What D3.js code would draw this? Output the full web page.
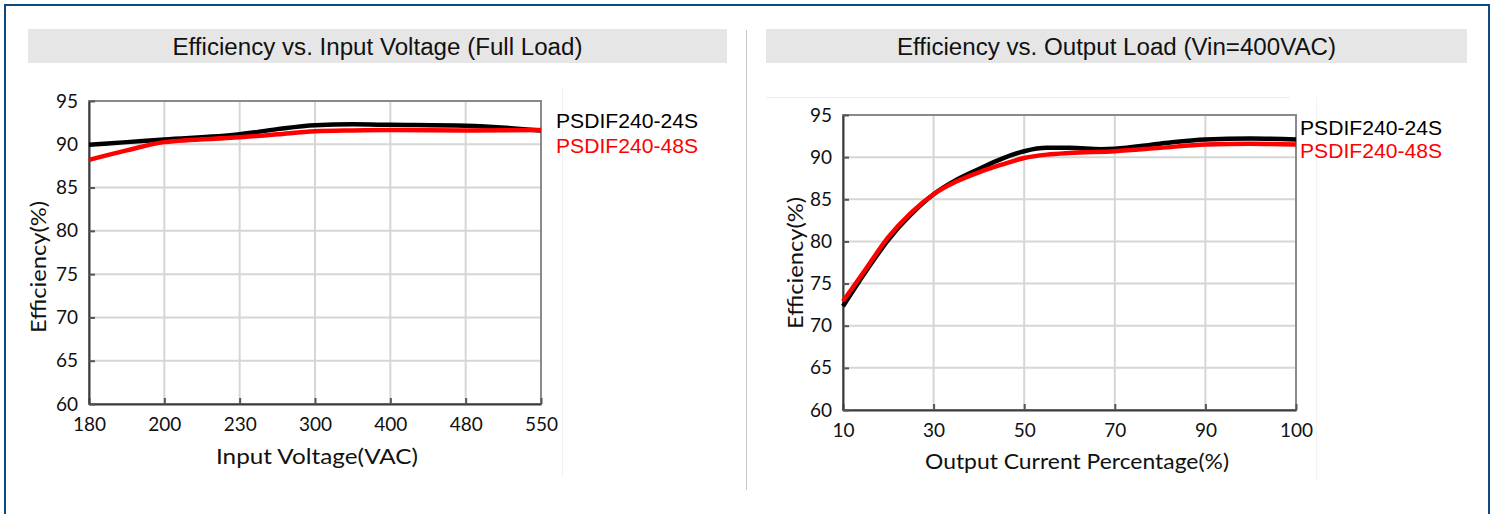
<!DOCTYPE html>
<html>
<head>
<meta charset="utf-8">
<script src="https://cdn.jsdelivr.net/npm/d3@7"></script>
<style>
  html, body { margin: 0; padding: 0; background: #fff; }
  svg { display: block; }
</style>
</head>
<body>
<svg id="chart" width="1497" height="514"></svg>
<script>
// ---------- data ----------
const voltageTicks = [180, 200, 230, 300, 400, 480, 550];
const loadTicks = [10, 30, 50, 70, 90, 100];
const effTicks = [60, 65, 70, 75, 80, 85, 90, 95];
const seriesNames = ["PSDIF240-24S", "PSDIF240-48S"];
const seriesColors = ["#000000", "#ff0000"];

// Efficiency vs input voltage (full load)
const voltX = [180, 190, 200, 230, 265, 300, 350, 400, 480, 550];
const volt24S = [89.95, 90.25, 90.55, 91.15, 91.75, 92.2, 92.3, 92.25, 92.15, 91.6];
const volt48S = [88.2, 89.3, 90.25, 90.8, 91.15, 91.5, 91.6, 91.65, 91.6, 91.65];

// Efficiency vs output load (Vin=400VAC)
const load24X = [10, 15, 20, 25, 30, 35, 40, 45, 50, 55, 60, 67, 70, 80, 90, 95, 100];
const load24S = [72.3, 76.4, 80.2, 83.2, 85.6, 87.3, 88.6, 89.8, 90.7, 91.1, 91.1, 90.95, 91.0, 91.6, 92.1, 92.2, 92.1];
const load48X = [10, 15, 20, 25, 30, 35, 40, 45, 50, 55, 60, 70, 80, 90, 95, 100];
const load48S = [72.9, 76.7, 80.5, 83.4, 85.6, 87.1, 88.2, 89.1, 89.9, 90.3, 90.5, 90.7, 91.1, 91.5, 91.6, 91.5];

const titles = ["Efficiency vs. Input Voltage (Full Load)", "Efficiency vs. Output Load (Vin=400VAC)"];
const xTitles = ["Input Voltage(VAC)", "Output Current Percentage(%)"];
const yTitle = "Efficiency(%)";

// ---------- drawing ----------
const svg = d3.select("#chart");
const titleFont = "'Liberation Sans', Arial, sans-serif";
const axisFont = "Lato, 'DejaVu Sans', sans-serif";

// outer frame
svg.append("rect").attr("x", 5).attr("y", 5).attr("width", 1484).attr("height", 520)
  .attr("fill", "none").attr("stroke", "#0d4a80").attr("stroke-width", 2);

// separator
svg.append("line").attr("x1", 746.5).attr("x2", 746.5).attr("y1", 30).attr("y2", 490)
  .attr("stroke", "#c8c8c8").attr("stroke-width", 1);

// faint artifacts of pasted images
svg.append("line").attr("x1", 562.5).attr("x2", 562.5).attr("y1", 88).attr("y2", 476)
  .attr("stroke", "#f0f0f0").attr("stroke-width", 1);
svg.append("line").attr("x1", 766).attr("x2", 1290).attr("y1", 97.5).attr("y2", 97.5)
  .attr("stroke", "#ececec").attr("stroke-width", 1);
svg.append("line").attr("x1", 1316.5).attr("x2", 1316.5).attr("y1", 97).attr("y2", 480)
  .attr("stroke", "#f2f2f2").attr("stroke-width", 1);

function panel(cfg) {
  const g = svg.append("g");
  // title band
  g.append("rect").attr("x", cfg.band[0]).attr("y", 29).attr("width", cfg.band[1] - cfg.band[0]).attr("height", 34)
    .attr("fill", "#e6e6e6");
  g.append("text").attr("x", (cfg.band[0] + cfg.band[1]) / 2).attr("y", 54.5)
    .attr("text-anchor", "middle").attr("font-family", titleFont).attr("font-size", 23)
    .attr("textLength", cfg.titleLen).attr("lengthAdjust", "spacingAndGlyphs")
    .attr("fill", "#111").text(cfg.title);

  const x = d3.scaleLinear().domain(cfg.ticks)
    .range(cfg.ticks.map((d, i) => cfg.xr[0] + i * (cfg.xr[1] - cfg.xr[0]) / (cfg.ticks.length - 1)));
  const y = d3.scaleLinear().domain([60, 95]).range(cfg.yr);

  // grid
  const grid = g.append("g");
  grid.selectAll(".vg").data(cfg.ticks.slice(1, -1)).join("line")
    .attr("x1", d => x(d)).attr("x2", d => x(d)).attr("y1", cfg.yr[1]).attr("y2", cfg.yr[0])
    .attr("stroke", "#d6d6d6").attr("stroke-width", 2);
  grid.selectAll(".hg").data(effTicks.slice(1, -1)).join("line")
    .attr("x1", cfg.xr[0]).attr("x2", cfg.xr[1]).attr("y1", d => y(d)).attr("y2", d => y(d))
    .attr("stroke", "#d6d6d6").attr("stroke-width", 2);

  // frame
  g.append("rect").attr("x", cfg.xr[0]).attr("y", cfg.yr[1]).attr("width", cfg.xr[1] - cfg.xr[0])
    .attr("height", cfg.yr[0] - cfg.yr[1]).attr("fill", "none").attr("stroke", "#8a8a8a").attr("stroke-width", 2);

  // axes
  const xAxis = d3.axisBottom(x).tickValues(cfg.ticks).tickSizeInner(-6).tickSizeOuter(0).tickPadding(14);
  const yAxis = d3.axisLeft(y).tickValues(effTicks).tickSizeInner(-6).tickSizeOuter(0).tickPadding(11);
  const gx = g.append("g").attr("transform", `translate(0,${cfg.yr[0]})`).call(xAxis);
  const gy = g.append("g").attr("transform", `translate(${cfg.xr[0]},0)`).call(yAxis);
  [gx, gy].forEach(a => {
    a.select(".domain").attr("stroke", "#3c3c3c").attr("stroke-width", 2);
    a.selectAll(".tick line").attr("stroke", "#555").attr("stroke-width", 2);
    a.selectAll(".tick text").attr("font-family", axisFont).attr("font-size", 19).attr("fill", "#111");
  });

  // axis titles
  g.append("text").attr("x", cfg.xt[0]).attr("y", cfg.xt[1]).attr("text-anchor", "middle")
    .attr("font-family", axisFont).attr("font-size", 22).attr("fill", "#111")
    .attr("textLength", cfg.xtLen).attr("lengthAdjust", "spacingAndGlyphs").text(cfg.xTitle);
  g.append("text").attr("transform", `translate(${cfg.yt[0]},${cfg.yt[1]}) rotate(-90)`).attr("text-anchor", "middle")
    .attr("font-family", axisFont).attr("font-size", 22).attr("fill", "#111")
    .attr("textLength", 132).attr("lengthAdjust", "spacingAndGlyphs").text(yTitle);

  // lines
  const line = d3.line().x(d => x(d[0])).y(d => y(d[1])).curve(d3.curveMonotoneX);
  cfg.series.forEach((s, i) => {
    g.append("path").datum(s).attr("d", line).attr("fill", "none")
      .attr("stroke", seriesColors[i]).attr("stroke-width", 4.5).attr("stroke-linejoin", "round");
  });

  // legend
  seriesNames.forEach((n, i) => {
    g.append("text").attr("x", cfg.leg[0]).attr("y", cfg.leg[1] + i * cfg.leg[2])
      .attr("font-family", titleFont).attr("font-size", 20).attr("fill", seriesColors[i])
      .attr("textLength", 142).attr("lengthAdjust", "spacingAndGlyphs").text(n);
  });
}

panel({
  band: [28, 727], title: titles[0], titleLen: 410, ticks: voltageTicks,
  xr: [89, 541], yr: [404, 101],
  xt: [317, 464], xtLen: 202, yt: [46, 267], xTitle: xTitles[0],
  series: [voltX.map((v, i) => [v, volt24S[i]]), voltX.map((v, i) => [v, volt48S[i]])],
  leg: [556, 128, 25]
});
panel({
  band: [766, 1467], title: titles[1], titleLen: 439, ticks: loadTicks,
  xr: [843, 1296], yr: [410, 115],
  xt: [1077, 469], xtLen: 304, yt: [803, 263], xTitle: xTitles[1],
  series: [load24X.map((v, i) => [v, load24S[i]]), load48X.map((v, i) => [v, load48S[i]])],
  leg: [1300, 135, 23]
});
</script>
</body>
</html>
